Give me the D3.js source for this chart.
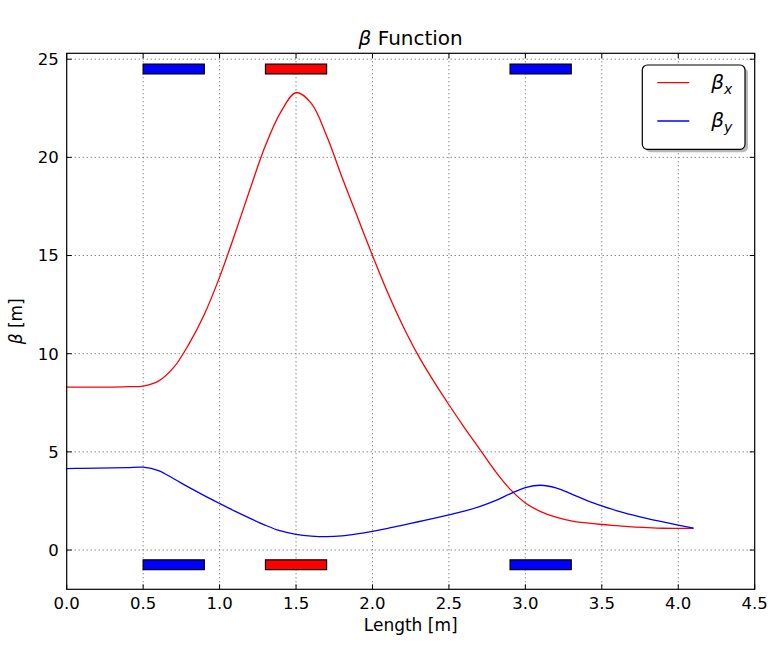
<!DOCTYPE html>
<html>
<head>
<meta charset="utf-8">
<script src="https://cdn.jsdelivr.net/npm/d3@7"></script>
<style>
  body { margin: 0; background: #fff; }
  svg { display: block; font-family: "DejaVu Sans", sans-serif; }
  .grid line { stroke: #555; stroke-width: 1; stroke-dasharray: 1,3; }
  .tick-label { font-size: 16.5px; fill: #000; }
</style>
</head>
<body>
<svg width="774" height="648"></svg>
<script>
// longitudinal position [m]
var sPos = [0.0, 0.1, 0.2, 0.3, 0.4, 0.5, 0.6, 0.7, 0.8, 0.9, 1.0,
            1.1, 1.2, 1.3, 1.4, 1.5, 1.6, 1.7, 1.8, 1.9, 2.0,
            2.1, 2.2, 2.3, 2.4, 2.5, 2.6, 2.7, 2.8, 2.9, 3.0,
            3.1, 3.2, 3.3, 3.4, 3.5, 3.6, 3.7, 3.8, 3.9, 4.0, 4.1];

var betaX = [8.3, 8.3, 8.3, 8.3, 8.32, 8.35, 8.6, 9.3, 10.5, 12.0, 13.9,
             16.1, 18.4, 20.6, 22.3, 23.3, 22.75, 21.1, 19.0, 17.0, 15.0,
             13.1, 11.4, 9.9, 8.6, 7.4, 6.25, 5.15, 4.05, 3.1, 2.4,
             1.96, 1.68, 1.49, 1.38, 1.3, 1.24, 1.18, 1.14, 1.11, 1.1, 1.1];

var betaY = [4.15, 4.16, 4.17, 4.18, 4.2, 4.22, 4.05, 3.63, 3.19, 2.77, 2.37,
             1.98, 1.61, 1.26, 0.97, 0.8, 0.71, 0.68, 0.72, 0.82, 0.95,
             1.1, 1.27, 1.44, 1.61, 1.79, 1.98, 2.21, 2.5, 2.86, 3.18,
             3.3, 3.17, 2.86, 2.53, 2.25, 2.0, 1.79, 1.6, 1.43, 1.27, 1.12];

// quadrupole positions
var magnetStart = [0.5, 1.3, 2.9];
var magnetEnd = [0.9, 1.7, 3.3];
var magnetColor = ["#0000ff", "#ff0000", "#0000ff"];
var magnetRowsLow = [24.25, -1.0];   // lower edge of each row
var magnetHeight = 0.5;

var xTicks = [0, 0.5, 1.0, 1.5, 2.0, 2.5, 3.0, 3.5, 4.0, 4.5];
var yTicks = [0, 5, 10, 15, 20, 25];

var svg = d3.select("svg"),
    margin = {top: 53.3, right: 19.3, bottom: 58.7, left: 66.7},
    width = +svg.attr("width") - margin.left - margin.right,
    height = +svg.attr("height") - margin.top - margin.bottom;

var x = d3.scaleLinear().domain([0, 4.5]).range([0, width]),
    y = d3.scaleLinear().domain([-2, 25.3]).range([height, 0]);

var g = svg.append("g")
    .attr("transform", "translate(" + margin.left + "," + margin.top + ")");

// grid
var grid = g.append("g").attr("class", "grid");
grid.selectAll(".gx").data(xTicks.slice(1, -1)).enter().append("line")
    .attr("x1", function (d) { return x(d); })
    .attr("x2", function (d) { return x(d); })
    .attr("y1", 0).attr("y2", height);
grid.selectAll(".gy").data(yTicks).enter().append("line")
    .attr("x1", 0).attr("x2", width)
    .attr("y1", function (d) { return y(d); })
    .attr("y2", function (d) { return y(d); });

// magnets
var magnets = [];
magnetRowsLow.forEach(function (low) {
    magnetStart.forEach(function (s, i) {
        magnets.push({s: s, e: magnetEnd[i], c: magnetColor[i], low: low});
    });
});
g.selectAll(".magnet").data(magnets).enter().append("rect")
    .attr("class", "magnet")
    .attr("x", function (d) { return x(d.s); })
    .attr("y", function (d) { return y(d.low + magnetHeight); })
    .attr("width", function (d) { return x(d.e) - x(d.s); })
    .attr("height", function (d) { return y(d.low) - y(d.low + magnetHeight); })
    .attr("fill", function (d) { return d.c; })
    .attr("stroke", "#000")
    .attr("stroke-width", 1.2);

// beta lines
var line = d3.line()
    .x(function (d) { return x(d[0]); })
    .y(function (d) { return y(d[1]); })
    .curve(d3.curveCatmullRom.alpha(0.5));

g.append("path")
    .datum(d3.zip(sPos, betaX))
    .attr("fill", "none")
    .attr("stroke", "#ff0000")
    .attr("stroke-width", 1.3)
    .attr("d", line);

g.append("path")
    .datum(d3.zip(sPos, betaY))
    .attr("fill", "none")
    .attr("stroke", "#0000ff")
    .attr("stroke-width", 1.3)
    .attr("d", line);

// frame
g.append("rect")
    .attr("width", width).attr("height", height)
    .attr("fill", "none").attr("stroke", "#000").attr("stroke-width", 1.2);

// ticks (inside, all four sides)
var tl = 5;
var ticks = g.append("g").attr("stroke", "#000").attr("stroke-width", 1);
xTicks.forEach(function (d) {
    ticks.append("line").attr("x1", x(d)).attr("x2", x(d)).attr("y1", height).attr("y2", height - tl);
    ticks.append("line").attr("x1", x(d)).attr("x2", x(d)).attr("y1", 0).attr("y2", tl);
});
yTicks.forEach(function (d) {
    ticks.append("line").attr("x1", 0).attr("x2", tl).attr("y1", y(d)).attr("y2", y(d));
    ticks.append("line").attr("x1", width).attr("x2", width - tl).attr("y1", y(d)).attr("y2", y(d));
});

g.selectAll(".xl").data(xTicks).enter().append("text")
    .attr("class", "tick-label")
    .attr("x", function (d) { return x(d); })
    .attr("y", height + 20)
    .attr("text-anchor", "middle")
    .text(function (d) { return d.toFixed(1); });

g.selectAll(".yl").data(yTicks).enter().append("text")
    .attr("class", "tick-label")
    .attr("x", -8)
    .attr("y", function (d) { return y(d); })
    .attr("dy", "0.36em")
    .attr("text-anchor", "end")
    .text(function (d) { return d; });

// labels
svg.append("text")
    .attr("x", margin.left + width / 2)
    .attr("y", 631)
    .attr("text-anchor", "middle")
    .style("font-size", "17px")
    .text("Length [m]");

var yl = svg.append("text")
    .attr("transform", "translate(22," + (margin.top + height / 2) + ") rotate(-90)")
    .attr("text-anchor", "middle")
    .style("font-size", "17px");
yl.append("tspan").style("font-style", "italic").text("β");
yl.append("tspan").text(" [m]");

var title = svg.append("text")
    .attr("x", margin.left + width / 2)
    .attr("y", 45)
    .attr("text-anchor", "middle")
    .style("font-size", "20px");
title.append("tspan").style("font-style", "italic").text("β");
title.append("tspan").text(" Function");

// legend
var leg = svg.append("g").attr("transform", "translate(642.3,65)");
leg.append("rect")
    .attr("x", 3).attr("y", 3).attr("width", 102.7).attr("height", 84.3)
    .attr("rx", 5).attr("fill", "#888").attr("opacity", 0.6);
leg.append("rect")
    .attr("width", 102.7).attr("height", 84.3)
    .attr("rx", 5).attr("fill", "#fff").attr("stroke", "#000").attr("stroke-width", 1.2);

var legItems = [{c: "#ff0000", sub: "x"}, {c: "#0000ff", sub: "y"}];
legItems.forEach(function (d, i) {
    var ly = 17.7 + i * 38.3;
    leg.append("line")
        .attr("x1", 15).attr("x2", 47)
        .attr("y1", ly).attr("y2", ly)
        .attr("stroke", d.c).attr("stroke-width", 1.3);
    var t = leg.append("text")
        .attr("x", 69).attr("y", ly + 6)
        .style("font-size", "20px").style("font-style", "italic").attr("fill", "#000");
    t.append("tspan").text("β");
    t.append("tspan").attr("dy", 5).style("font-size", "14px").text(d.sub);
});
</script>
</body>
</html>
